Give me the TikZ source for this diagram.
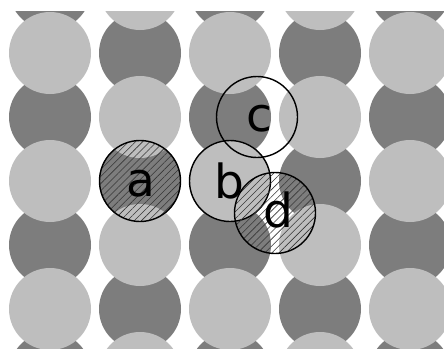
\documentclass[tikz,border=0pt]{standalone}
\usepackage{fontspec}
\newfontfamily\labelfont{DejaVu Sans}
\usetikzlibrary{patterns.meta}
\definecolor{lightball}{RGB}{190,190,190}
\definecolor{darkball}{RGB}{125,125,125}
\definecolor{hatchcol}{RGB}{55,55,55}
\begin{document}
\begin{tikzpicture}[x=1pt,y=-1pt,
  site/.style={circle, draw=black, line width=1.4pt, minimum size=81pt, inner sep=0pt},
  hatched/.style={pattern={Lines[angle=45,distance=5pt,line width=0.6pt]}, pattern color=hatchcol},
  lab/.style={font=\labelfont\fontsize{47}{47}\selectfont, anchor=base, inner sep=0pt}]
\useasboundingbox (0,0) rectangle (444,348);
\fill[white] (0,0) rectangle (444,348);
\begin{scope}
\clip (0,11) rectangle (444,348);
\foreach \k in {0,...,4} {
  \foreach \j in {0,...,6} {
    \pgfmathtruncatemacro\pp{mod(\k+\j,2)}
    \ifnum\pp=0
      \fill[darkball] ({50+90*\k},{-11+64*\j}) circle[radius=41pt];
    \fi
  }
}
\foreach \k in {0,...,4} {
  \foreach \j in {0,...,6} {
    \pgfmathtruncatemacro\pp{mod(\k+\j,2)}
    \ifnum\pp=1
      \fill[lightball] ({50+90*\k},{-11+64*\j}) circle[radius=41pt];
    \fi
  }
}
\end{scope}
\node[site, hatched] (a) at (140,181) {};
\node[site] (c) at (257,117) {};
\node[site] (b) at (230,181) {};
\node[site, hatched] (d) at (275,213) {};
\node[lab] (la) at (141,196) {a};
\node[lab] (lb) at (229,198) {b};
\node[lab] (lc) at (259,131) {c};
\node[lab] (ld) at (278,227) {d};
\end{tikzpicture}
\end{document}
